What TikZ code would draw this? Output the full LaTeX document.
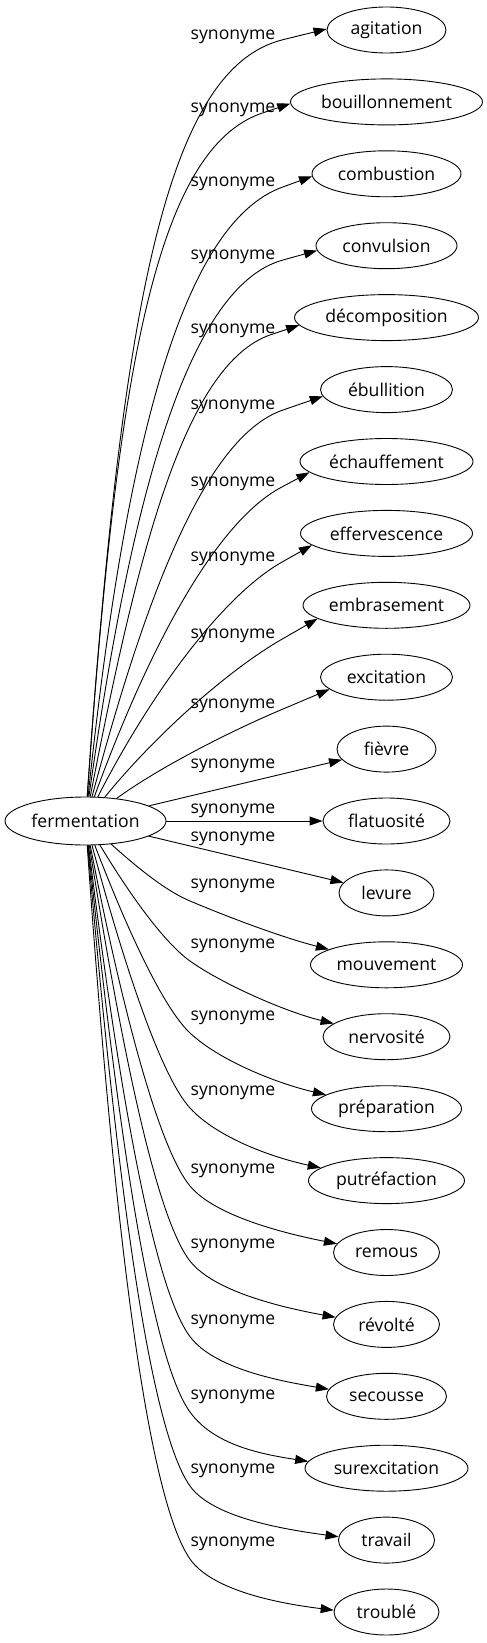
\documentclass[tikz,border=0pt]{standalone}
\usepackage{fontspec}
\setmainfont{Open Sans}
\usetikzlibrary{shapes.geometric,arrows.meta}

\tikzset{
  word/.style={ellipse,draw,line width=0.9pt,inner sep=0pt,minimum height=46pt},
  synlabel/.style={inner sep=0pt},
  synedge/.style={line width=0.9pt,-{Triangle[length=13pt,width=9pt]}}
}

\begin{document}
\begin{tikzpicture}[x=1pt,y=-1pt,font=\fontsize{17.6}{20}\selectfont]
  \useasboundingbox (0,0) rectangle (487,1643);
  \node [word,minimum width=161pt,minimum height=48pt] (ferm) at (85.5,821) {fermentation};
  \node [word,minimum width=119pt] (n0) at (386.5,30) {agitation};
  \node [word,minimum width=192pt] (n1) at (386.5,101.9) {bouillonnement};
  \node [word,minimum width=149pt] (n2) at (386.5,173.8) {combustion};
  \node [word,minimum width=141pt] (n3) at (386.5,245.7) {convulsion};
  \node [word,minimum width=184pt] (n4) at (386.5,317.6) {décomposition};
  \node [word,minimum width=132pt] (n5) at (386.5,389.6) {ébullition};
  \node [word,minimum width=173pt] (n6) at (386.5,461.5) {échauffement};
  \node [word,minimum width=172pt] (n7) at (386.5,533.4) {effervescence};
  \node [word,minimum width=167pt] (n8) at (386.5,605.3) {embrasement};
  \node [word,minimum width=132pt] (n9) at (386.5,677.2) {excitation};
  \node [word,minimum width=99pt] (n10) at (386.5,749.1) {fièvre};
  \node [word,minimum width=127pt] (n11) at (386.5,821) {flatuosité};
  \node [word,minimum width=95pt] (n12) at (386.5,892.9) {levure};
  \node [word,minimum width=152pt] (n13) at (386.5,964.8) {mouvement};
  \node [word,minimum width=127pt] (n14) at (386.5,1036.7) {nervosité};
  \node [word,minimum width=150pt] (n15) at (386.5,1108.7) {préparation};
  \node [word,minimum width=156pt] (n16) at (386.5,1180.6) {putréfaction};
  \node [word,minimum width=106pt] (n17) at (386.5,1252.5) {remous};
  \node [word,minimum width=106pt] (n18) at (386.5,1324.4) {révolté};
  \node [word,minimum width=120pt] (n19) at (386.5,1396.3) {secousse};
  \node [word,minimum width=163pt] (n20) at (386.5,1468.2) {surexcitation};
  \node [word,minimum width=96pt] (n21) at (386.5,1540.1) {travail};
  \node [word,minimum width=105pt] (n22) at (386.5,1612) {troublé};

  \node [synlabel] (l0) at (233,37) {synonyme};
  \node [synlabel] (l1) at (233,110) {synonyme};
  \node [synlabel] (l2) at (233,184) {synonyme};
  \node [synlabel] (l3) at (233,257) {synonyme};
  \node [synlabel] (l4) at (233,331) {synonyme};
  \node [synlabel] (l5) at (233,407) {synonyme};
  \node [synlabel] (l6) at (233,484) {synonyme};
  \node [synlabel] (l7) at (233,559) {synonyme};
  \node [synlabel] (l8) at (233,636) {synonyme};
  \node [synlabel] (l9) at (233,706) {synonyme};
  \node [synlabel] (l10) at (233,766) {synonyme};
  \node [synlabel] (l11) at (233,811) {synonyme};
  \node [synlabel] (l12) at (233,839) {synonyme};
  \node [synlabel] (l13) at (233,886) {synonyme};
  \node [synlabel] (l14) at (233,946) {synonyme};
  \node [synlabel] (l15) at (233,1018) {synonyme};
  \node [synlabel] (l16) at (233,1093) {synonyme};
  \node [synlabel] (l17) at (233,1171) {synonyme};
  \node [synlabel] (l18) at (233,1246) {synonyme};
  \node [synlabel] (l19) at (233,1322) {synonyme};
  \node [synlabel] (l20) at (233,1397) {synonyme};
  \node [synlabel] (l21) at (233,1471) {synonyme};
  \node [synlabel] (l22) at (233,1544) {synonyme};

  % upper fan
  \foreach \i/\ly/\rx in {0/35.7/59.7,1/108.9/96,2/182.9/74.5,3/256/70.5,4/330.4/92,5/406/66,6/482.9/86.5,7/557.5/86,8/634.6/83.5,9/705/66} {
    \pgfmathsetmacro\ty{30+71.91*\i}
    \pgfmathsetmacro\wy{\ly+4}
    \pgfmathsetmacro\rise{797-\wy}
    \pgfmathsetmacro\frc{\rise/757}
    \pgfmathsetmacro\chd{atan(\rise/190)}
    \pgfmathtruncatemacro\aout{min(86,\chd+12)}
    \pgfmathsetmacro\tz{1932/sqrt((24*cos(\aout))^2+(80.5*sin(\aout))^2)}
    \pgfmathsetmacro\yz{821-\tz*sin(\aout)}
    \pgfmathsetmacro\done{(0.3+0.35*\frc)*(\yz-\wy)/sin(\aout)}
    \pgfmathsetmacro\ponex{\done*cos(\aout)}
    \pgfmathsetmacro\poney{-\done*sin(\aout)}
    \pgfmathtruncatemacro\anc{180+14*(1-\frc)}
    \pgfmathsetmacro\tb{\rx*23/sqrt((23*cos(\anc))^2+(\rx*sin(\anc))^2)}
    \pgfmathsetmacro\tipx{386.5+\tb*cos(\anc)}
    \pgfmathsetmacro\tipy{\ty-\tb*sin(\anc)}
    \pgfmathsetmacro\wx{min(283,\tipx-28)}
    \pgfmathsetmacro\aw{atan((\wy-\tipy)/(\tipx-\wx))}
    \pgfmathsetmacro\bend{50+70*\frc}
    \pgfmathsetmacro\ptwox{\wx-\bend*cos(\aw)}
    \pgfmathsetmacro\ptwoy{\wy+\bend*sin(\aw)}
    \draw [synedge] (ferm.\aout) .. controls +(\ponex,\poney) and (\ptwox,\ptwoy) .. (\wx,\wy) -- (n\i.\anc);
  }
  \draw [synedge] (ferm) -- (n10);
  \draw [synedge] (ferm) -- (n11);
  \draw [synedge] (ferm) -- (n12);
  % lower fan
  \foreach \i/\ly in {13/885,14/945,15/1017,16/1092,17/1170,18/1245,19/1320.6,20/1396,21/1470,22/1543} {
    \pgfmathsetmacro\vy{\ly+16}
    \pgfmathsetmacro\frc{(\vy-845)/714}
    \pgfmathsetmacro\chd{atan((\vy-845)/95)}
    \pgfmathtruncatemacro\aout{min(86,\chd+11-7*(\chd-34)/48)}
    \pgfmathsetmacro\ang{25+0.625*(\chd-34)}
    \pgfmathsetmacro\tz{1932/sqrt((24*cos(\aout))^2+(80.5*sin(\aout))^2)}
    \pgfmathsetmacro\yz{821+\tz*sin(\aout)}
    \pgfmathsetmacro\done{0.45*(\vy-\yz)/sin(\aout)}
    \pgfmathsetmacro\ponex{\done*cos(\aout)}
    \pgfmathsetmacro\poney{\done*sin(\aout)}
    \pgfmathsetmacro\bend{20+0.09*(\vy-845)}
    \pgfmathsetmacro\ptwox{190-\bend*cos(\ang)}
    \pgfmathsetmacro\ptwoy{\vy-\bend*sin(\ang)}
    \pgfmathsetmacro\pthx{40*cos(\ang)}
    \pgfmathsetmacro\pthy{40*sin(\ang)}
    \pgfmathtruncatemacro\anc{164+14*\frc}
    \pgfmathsetmacro\arr{15-8*\frc}
    \pgfmathsetmacro\pfx{-50*cos(\arr)}
    \pgfmathsetmacro\pfy{-50*sin(\arr)}
    \draw [synedge] (ferm.-\aout) .. controls +(\ponex,\poney) and (\ptwox,\ptwoy) .. (190,\vy)
      .. controls +(\pthx,\pthy) and +(\pfx,\pfy) .. (n\i.\anc);
  }
\end{tikzpicture}
\end{document}
